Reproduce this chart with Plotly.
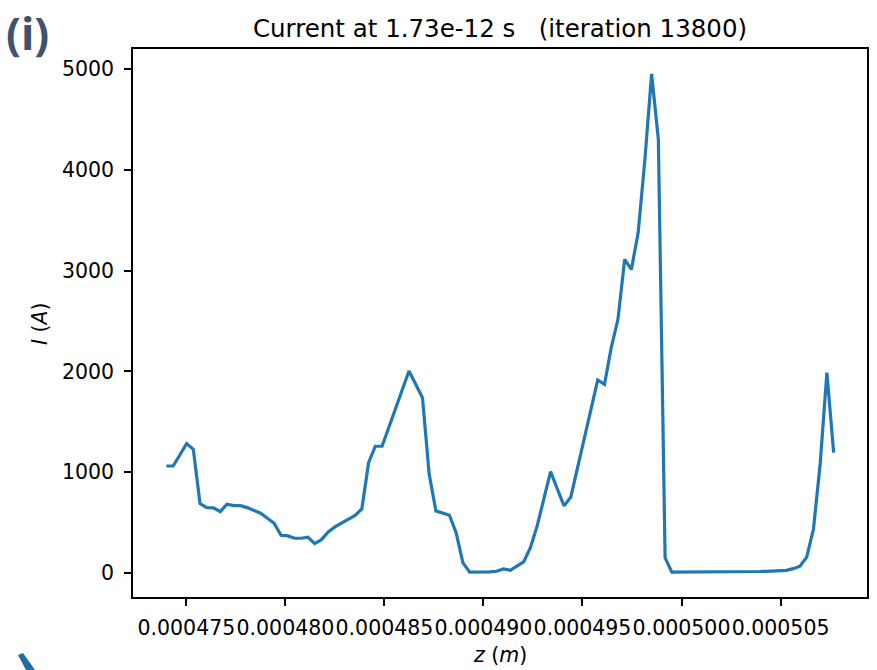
import plotly.graph_objects as go

# Axial position of each sample, in micrometres
z_um = [
    473.99, 474.33, 474.67, 475.01, 475.35, 475.69, 476.03, 476.37, 476.71, 477.05,
    477.39, 477.73, 478.07, 478.41, 478.75, 479.09, 479.43, 479.78, 480.12, 480.46,
    480.80, 481.14, 481.48, 481.82, 482.16, 482.50, 482.84, 483.18, 483.52, 483.86,
    484.20, 484.54, 484.88, 485.22, 485.56, 485.90, 486.24, 486.58, 486.92, 487.26,
    487.60, 487.94, 488.28, 488.62, 488.96, 489.30, 489.64, 489.98, 490.32, 490.66,
    491.01, 491.35, 491.69, 492.03, 492.37, 492.71, 493.05, 493.39, 493.73, 494.07,
    494.41, 494.75, 495.09, 495.43, 495.77, 496.11, 496.45, 496.79, 497.13, 497.47,
    497.81, 498.15, 498.49, 498.83, 499.17, 499.51, 499.85, 500.19, 500.53, 500.87,
    501.21, 501.56, 501.90, 502.24, 502.58, 502.92, 503.26, 503.60, 503.94, 504.28,
    504.62, 504.96, 505.30, 505.64, 505.98, 506.32, 506.66, 507.00, 507.34, 507.68,
]

# Beam current at each position, in amperes
current_a = [
    1061, 1061, 1170, 1283, 1227, 688, 648, 645, 608, 682,
    668, 668, 648, 622, 592, 543, 493, 374, 367, 344,
    344, 354, 291, 330, 407, 456, 496, 536, 570, 635,
    1094, 1257, 1257, 1444, 1631, 1817, 2004, 1872, 1739, 979,
    615, 595, 572, 400, 102, 8, 8, 9, 11, 16,
    40, 26, 66, 110, 250, 466, 734, 1005, 833, 665,
    754, 1045, 1359, 1624, 1915, 1872, 2235, 2517, 3112, 3013,
    3376, 4100, 4953, 4303, 152, 8, 8, 8, 9, 9,
    9, 10, 10, 10, 11, 11, 12, 13, 14, 16,
    18, 21, 25, 42, 66, 157, 432, 1081, 1987, 1193,
]

x_tick_vals = [0.000475, 0.000480, 0.000485, 0.000490, 0.000495, 0.000500, 0.000505]
x_tick_text = ["0.000475", "0.000480", "0.000485", "0.000490", "0.000495", "0.000500", "0.000505"]
y_tick_vals = [0, 1000, 2000, 3000, 4000, 5000]
y_tick_text = ["0", "1000", "2000", "3000", "4000", "5000"]

title_text = "Current at 1.73e-12 s\u00a0\u00a0\u00a0(iteration 13800)"
panel_tag = "(i)"

z_m = [v * 1e-6 for v in z_um]

W, H = 877, 670
L, R, T, B = 133, 10, 49, 73
PW, PH = W - L - R, H - T - B


def padded(lo, hi, frac=0.05):
    span = hi - lo
    return [lo - frac * span, hi + frac * span]


def px(x, y):
    """Pixel position on the page -> paper coordinates."""
    return (x - L) / PW, (T + PH - y) / PH


FONT = "DejaVu Sans"
TICK_SIZE = 20.5

fig = go.Figure(
    go.Scatter(
        x=z_m,
        y=current_a,
        mode="lines",
        line=dict(color="#1f77b4", width=3.2),
        hoverinfo="skip",
    )
)

axis_common = dict(
    showgrid=False,
    zeroline=False,
    showline=True,
    linecolor="black",
    linewidth=1.6,
    mirror=True,
    ticks="outside",
    ticklen=7,
    tickwidth=1.6,
    tickcolor="black",
    automargin=False,
    tickfont=dict(family=FONT, size=TICK_SIZE, color="black"),
)

fig.update_xaxes(
    range=padded(min(z_m), max(z_m)),
    tickmode="array",
    tickvals=x_tick_vals,
    ticktext=x_tick_text,
    tickangle=0,
    ticklabelstandoff=5,
    **axis_common,
)
fig.update_yaxes(
    range=padded(min(current_a), max(current_a)),
    tickmode="array",
    tickvals=y_tick_vals,
    ticktext=y_tick_text,
    ticklabelstandoff=6,
    **axis_common,
)

xl_x, xl_y = px(500, 655)
yl_x, yl_y = px(40, 323)
tag_x, tag_y = px(27, 33)

fig.add_annotation(
    x=xl_x, y=xl_y, xref="paper", yref="paper", showarrow=False,
    text="<i>z</i> (<i>m</i>)", xanchor="center", yanchor="middle",
    font=dict(family=FONT, size=20.5, color="black"),
)
fig.add_annotation(
    x=yl_x, y=yl_y, xref="paper", yref="paper", showarrow=False,
    text="<i>I</i> (<i>A</i>)", textangle=-90, xanchor="center", yanchor="middle",
    font=dict(family=FONT, size=20.5, color="black"),
)
fig.add_annotation(
    x=tag_x, y=tag_y, xref="paper", yref="paper", showarrow=False,
    text=f"<b>{panel_tag}</b>", xanchor="center", yanchor="middle",
    font=dict(family="Open Sans", size=44, color="#41526a"),
)

# Tip of the connector arrow peeking in at the lower-left corner
pts = [px(18, 655), px(23, 653), px(35, 670), px(26, 670)]
path = "M " + " L ".join(f"{a:.5f},{b:.5f}" for a, b in pts) + " Z"
fig.add_shape(
    type="path", path=path, xref="paper", yref="paper",
    fillcolor="#1d6e9e", line=dict(width=0), layer="above",
)

fig.update_layout(
    width=W,
    height=H,
    margin=dict(l=L, r=R, t=T, b=B, pad=0),
    paper_bgcolor="white",
    plot_bgcolor="white",
    showlegend=False,
    title=dict(
        text=title_text,
        x=0.5,
        xref="paper",
        xanchor="center",
        y=1 - 28 / H,
        yref="container",
        yanchor="middle",
        font=dict(family=FONT, size=24.5, color="black"),
    ),
)

fig.write_html("out.html")
